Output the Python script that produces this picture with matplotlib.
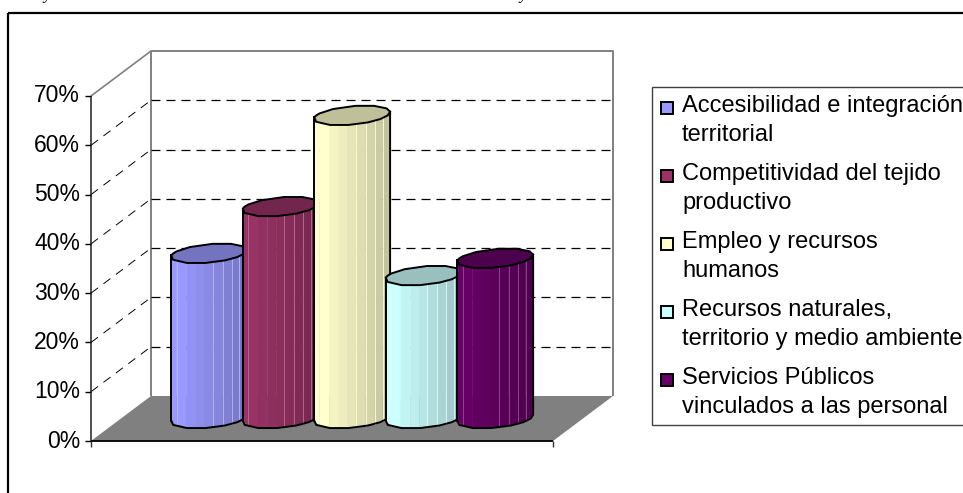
import numpy as np
import matplotlib
matplotlib.use('Agg')
import matplotlib.pyplot as plt
from matplotlib.patches import Rectangle

plt.rcParams['font.family'] = ['Liberation Sans', 'DejaVu Sans']

categories = ['Accesibilidad e integración\nterritorial',
              'Competitividad del tejido\nproductivo',
              'Empleo y recursos\nhumanos',
              'Recursos naturales,\nterritorio y medio ambiente',
              'Servicios Públicos\nvinculados a las personal']
values = [33.5, 43, 61.5, 29, 32.5]
colors = ['#9999FF', '#993366', '#FFFFCC', '#CCFFFF', '#660066']
yticks = [0, 10, 20, 30, 40, 50, 60, 70]

W, H = 963, 493
fig = plt.figure(figsize=(W / 100, H / 100), dpi=100)

# front plane of the fake 3d box
left, right, bottom, top = 91, 553, 441, 96
ax = fig.add_axes([left / W, 1 - bottom / H, (right - left) / W, (bottom - top) / H])
ax.set_xlim(-1.23, 5.23)
ax.set_ylim(0, 70)
ax.axis('off')

# depth 1 = back wall
unit_x = 6.46 / 462
unit_y = 70 / 345
dx = 60 * unit_x
dy = 45 * unit_y


def proj(x, y, d):
    return x + d * dx, y + d * dy


def line(xs, ys, **kw):
    ax.plot(xs, ys, clip_on=False, solid_capstyle='butt', **kw)


x0, x1 = ax.get_xlim()

# floor
corners = [proj(x0, 0, 0), proj(x1, 0, 0), proj(x1, 0, 1), proj(x0, 0, 1)]
ax.fill(*zip(*corners), color='#808080', lw=0, clip_on=False, zorder=1)

# walls and grid
bx0, by0 = proj(x0, 0, 1)
bx1, _ = proj(x1, 0, 1)
_, by1 = proj(x0, 70, 1)
line([bx0, bx0, bx1, bx1], [by0, by1, by1, by0], color='#808080', lw=1.4, zorder=2)
line([x0, bx0], [70, by1], color='#808080', lw=1.2, zorder=2)
for t in yticks[1:-1]:
    bx, by = proj(x0, t, 1)
    ax.plot([bx, bx1], [by, by], color='black', lw=0.9, dashes=(7.2, 4.8), clip_on=False, zorder=2)
    ax.plot([x0, bx], [t, by], color='black', lw=0.7, dashes=(9, 7), clip_on=False, zorder=2)

# front axis
line([x0, x0], [0, 70], color='#202020', lw=1.1, zorder=3)
line([x0, x1], [0, 0], color='black', lw=1.3, zorder=3)
tick_px = 6
for t in yticks:
    line([x0 - tick_px * unit_x, x0], [t, t], color='black', lw=1, zorder=3)
    ax.annotate(f'{t}%', xy=(x0, t), xytext=(-11, 0), textcoords='offset pixels',
                ha='right', va='center', fontsize=16.5, annotation_clip=False)
for xx in [x0, x1]:
    line([xx, xx], [0, -tick_px * unit_y], color='#303030', lw=1, zorder=3)

# cylinders, drawn left to right so each covers the one before
r = 0.5
rd = 0.22
ang = np.radians(np.array([0, 22, 45, 75, 105, 140, 168, 180, 192, 220, 255, 285, 315, 338, 360]))
edges = [0, .07, .2, .33, .44, .55, .68, .8, .9, 1]
light_at = [.07, .55, .68, .8, .9]


def shade(c, f):
    rgb = np.array(matplotlib.colors.to_rgb(c))
    return tuple(rgb * f)


for i, (v, c) in enumerate(zip(values, colors)):
    px = r * np.cos(ang) + rd * np.sin(ang) * dx + i + 0.5 * dx
    py = rd * np.sin(ang) * dy
    z = 10 + i
    lo = int(np.argmin(px))
    hi = int(np.argmax(px))
    xl, xr = px[lo], px[hi]
    base = 0.5 * dy
    # lower half of the outline between the left and right extremes
    idx = [k for k in range(len(ang) - 1) if ang[k] >= ang[lo] or ang[k] <= ang[hi]]
    idx = sorted(idx, key=lambda k: (ang[k] - ang[lo]) % (2 * np.pi))
    lx = px[idx]
    ly = py[idx]
    for a, b in zip(edges[:-1], edges[1:]):
        xa, xb = xl + a * (xr - xl), xl + b * (xr - xl)
        ya = np.interp(xa, lx, ly)
        yb = np.interp(xb, lx, ly)
        f = 1 - 0.25 * ((a + b) / 2) ** 1.3 if a > 0.1 else 1
        ax.fill([xa, xb, xb, xa], [base + ya, base + yb, base + v + yb, base + v + ya],
                color=shade(c, f), lw=0.3, clip_on=False, zorder=z)
    for a in light_at:
        xa = xl + a * (xr - xl)
        ya = np.interp(xa, lx, ly)
        rgb = np.array(matplotlib.colors.to_rgb(c))
        ax.plot([xa, xa], [base + ya, base + v + ya], color=tuple(rgb + (1 - rgb) * 0.3),
                lw=0.6, clip_on=False, zorder=z + 0.05)
    # outline
    ax.plot(np.r_[lx, xr, xr], np.r_[base + ly, base + py[hi], base + v + py[hi]],
            color='black', lw=1.4, clip_on=False, zorder=z + 0.2)
    ax.plot([xl, xl], [base + py[lo], base + v + py[lo]], color='black', lw=1.4,
            clip_on=False, zorder=z + 0.2)
    ax.fill(px, base + v + py, facecolor=shade(c, 0.75), edgecolor='black', lw=1.4,
            clip_on=False, zorder=z + 0.1)

# outer frame, legend and the cut off caption sit in figure pixels
over = fig.add_axes([0, 0, 1, 1], zorder=50)
over.set_xlim(0, W)
over.set_ylim(H, 0)
over.axis('off')
over.add_patch(Rectangle((8, 13), W + 10, H + 10, fill=False, ec='black', lw=1.6, clip_on=False))
over.add_patch(Rectangle((652, 87), W, 338, fc='white', ec='#404040', lw=1, clip_on=False))

ly = 105
for name, c in zip(categories, colors):
    over.add_patch(Rectangle((661, ly - 3), 12, 12, fc=c, ec='black', lw=1.4))
    over.text(682, ly - 10, name, fontsize=17, va='top', ha='left', linespacing=1.4)
    ly += 68

for xc in [47, 523]:
    over.text(xc, -1, 'y', family='Liberation Serif', style='italic', fontsize=12,
              ha='center', va='baseline', clip_on=False)

fig.savefig('out.png', dpi=100)
